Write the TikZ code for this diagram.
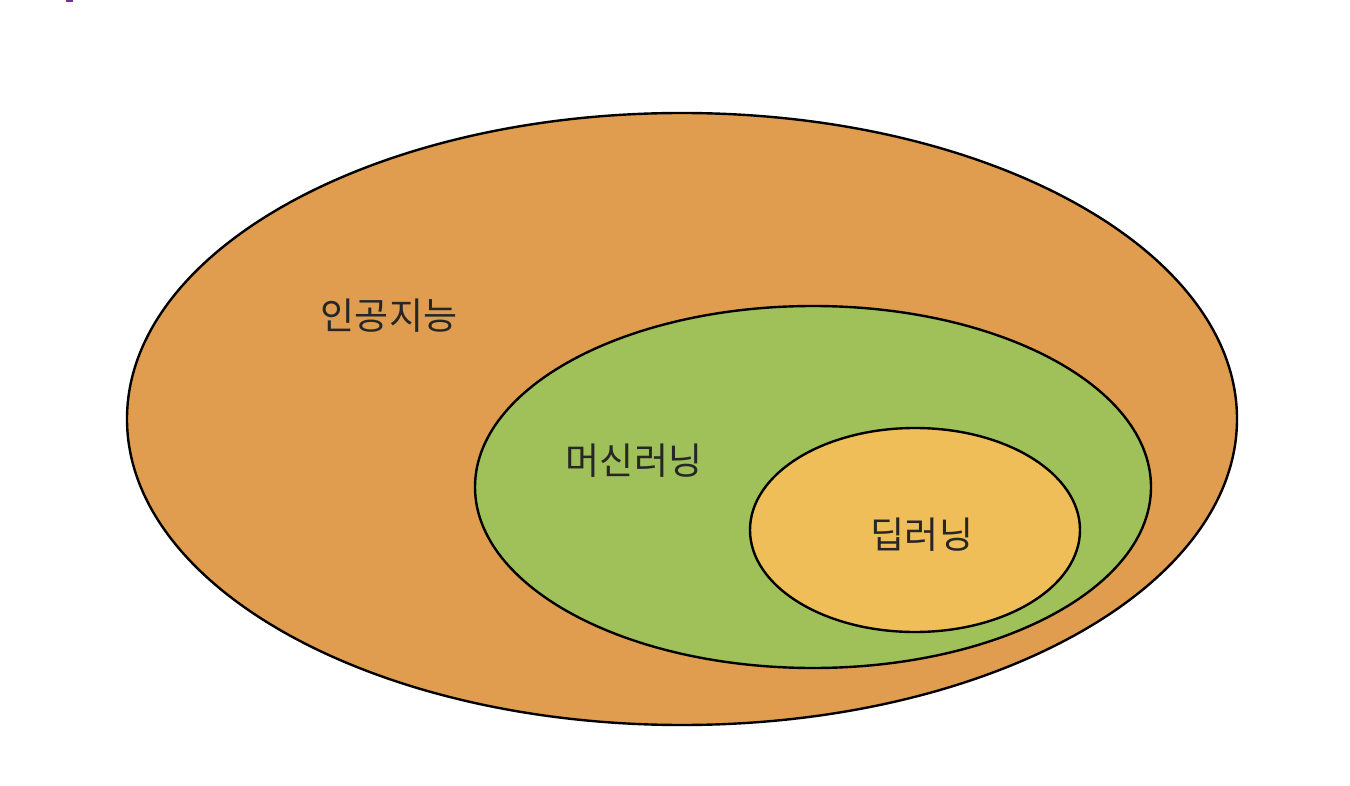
\documentclass[tikz,border=0pt]{standalone}
\usepackage{fontspec}
\newfontfamily\kr{Noto Sans CJK KR}
\definecolor{aiorange}{HTML}{E09D50}
\definecolor{mlgreen}{HTML}{A0C05A}
\definecolor{dlyellow}{HTML}{F0BE58}
\definecolor{markpurple}{HTML}{7030A0}
\begin{document}
\begin{tikzpicture}[x=1pt,y=-1pt,
  region/.style={draw=black,line width=2.4pt},
  lbl/.style={font=\kr\fontsize{37}{44}\selectfont,text=black!85,inner sep=0pt}]
\useasboundingbox[fill=white] (0,0) rectangle (1350,786);
\fill[markpurple] (66,0) rectangle (73,2);
\filldraw[region,fill=aiorange] (682,419) ellipse [x radius=555, y radius=306];
\filldraw[region,fill=mlgreen] (813,487) ellipse [x radius=338, y radius=181];
\filldraw[region,fill=dlyellow] (915,530) ellipse [x radius=165, y radius=102];
\node[lbl] (ai) at (389,316) {인공지능};
\node[lbl] (ml) at (634,461) {머신러닝};
\node[lbl] (dl) at (922,535) {딥러닝};
\end{tikzpicture}
\end{document}
